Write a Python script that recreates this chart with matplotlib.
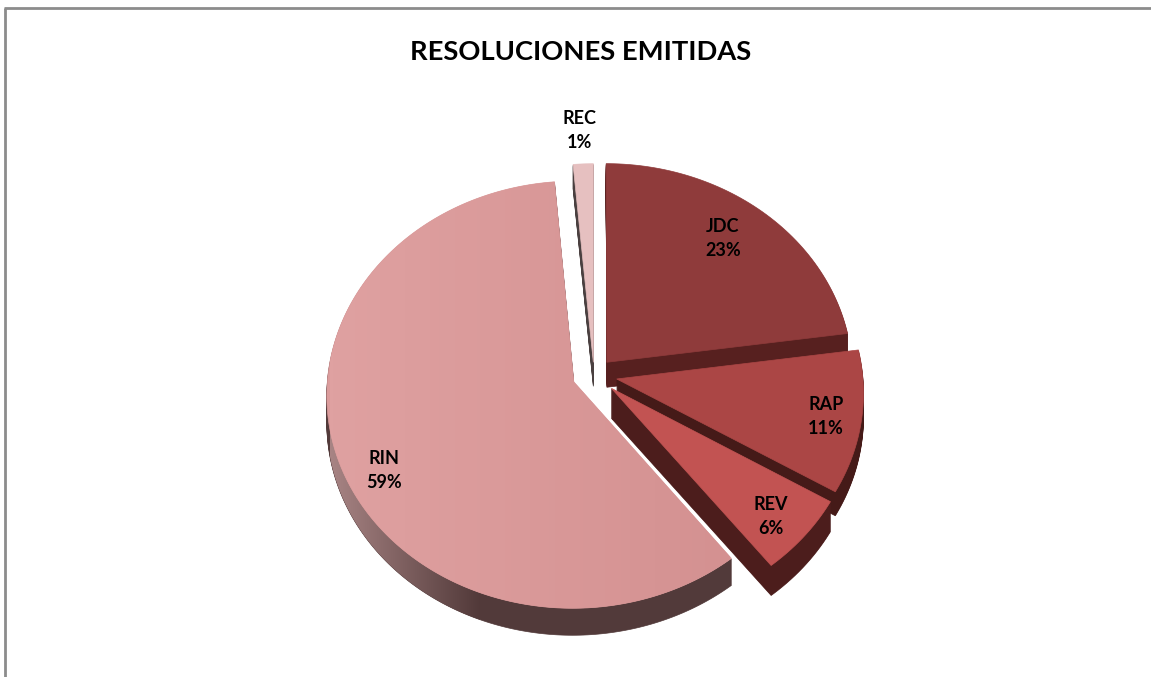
#!/usr/bin/python3
import numpy as np
import matplotlib
matplotlib.use('Agg')
import matplotlib.pyplot as plt
from matplotlib.colors import to_rgb
from matplotlib.patches import Polygon
from matplotlib.transforms import Affine2D

plt.rcParams['font.family'] = ['Lato', 'DejaVu Sans']

title = 'RESOLUCIONES EMITIDAS'
names = ['JDC', 'RAP', 'REV', 'RIN', 'REC']
values = [22.8, 10.8, 5.9, 59.1, 1.4]
explode = [0.08, 0.094, 0.094, 0.088, 0.06]
top_colors = ['#8F3B3B', '#AB4645', '#C25352', '#DB9C9C', '#E6C0C0']
side_colors = ['#57201F', '#451A18', '#4C1D1C', '#523A3A', '#4A4040']
depths = [25, 24, 30, 27, 24]
label_pos = [(723, 238), (826, 416), (771, 516), (384, 471), (580, 131)]
draw_order = [4, 3, 0, 1, 2]

# pie centre and tilt, in pixels
cx, cy = 594, 375
rx, ry = 246, 212
persp = 0.06

fig = plt.figure(figsize=(11.51, 6.77), dpi=100)
ax = fig.add_axes([0, 0, 1, 1])
wedges, _ = ax.pie(values, explode=explode, startangle=90, counterclock=False)


def project(xy):
    w = 1 + persp * xy[:, 1]
    return np.column_stack([cx + rx * xy[:, 0] / w, cy - ry * xy[:, 1] / w])


def gradient(xy, x0, x1, col0, col1, zorder):
    # horizontal colour fade clipped to a polygon
    fade = np.linspace(0, 1, 128).reshape(1, -1, 1)
    c0 = np.array(to_rgb(col0)).reshape(1, 1, 3)
    c1 = np.array(to_rgb(col1)).reshape(1, 1, 3)
    im = ax.imshow(c0 + (c1 - c0) * fade, extent=[x0, x1, 677, 100], aspect='auto', zorder=zorder)
    clip = Polygon(xy, closed=True, fc='none', ec='none', zorder=zorder)
    ax.add_patch(clip)
    im.set_clip_path(clip)


polys = []
for w in wedges:
    path = w.get_patch_transform().transform_path(w.get_path())
    # flatten at a large scale so the arc stays smooth
    p = Affine2D().scale(2000).transform_path(path).to_polygons(closed_only=False)[0] / 2000
    polys.append(project(p))
    w.set_visible(False)

ax.set_aspect('auto')
ax.axis('off')

z = 2
for i in draw_order:
    xy = polys[i]
    for d in range(depths[i], 0, -1):
        ax.add_patch(Polygon(xy + [0, d], closed=True, fc=side_colors[i], ec=side_colors[i], lw=0.5, zorder=z))
    if names[i] == 'RIN':
        # side of the big slice fades out towards the left
        gradient(xy + [0, depths[i]], 330, 480, '#A88484', side_colors[i], z + 0.1)
    z += 1
    ax.add_patch(Polygon(xy, closed=True, fc=top_colors[i], ec=top_colors[i], lw=0.5, zorder=z))
    if names[i] == 'RIN':
        gradient(xy, 330, 730, '#DFA1A1', '#D49191', z + 0.1)
    z += 1

ax.set_xlim(0, 1151)
ax.set_ylim(677, 0)

for name, val, pos in zip(names, values, label_pos):
    ax.text(pos[0], pos[1], '%s\n%d%%' % (name, round(val)), ha='center', va='center', fontsize=13,
            fontweight='bold', color='black', linespacing=1.5, zorder=50)

ax.text(581, 52, title, ha='center', va='center', fontsize=19.7, fontweight='bold', color='black', zorder=50)

# chart frame, cut off at the bottom and right
ax.plot([5, 5], [677, 8], color='#8C8C8C', lw=2, zorder=60, solid_capstyle='butt')
ax.plot([4, 1151], [8, 8], color='#8C8C8C', lw=2, zorder=60, solid_capstyle='butt')

fig.savefig('out.png', dpi=100)
